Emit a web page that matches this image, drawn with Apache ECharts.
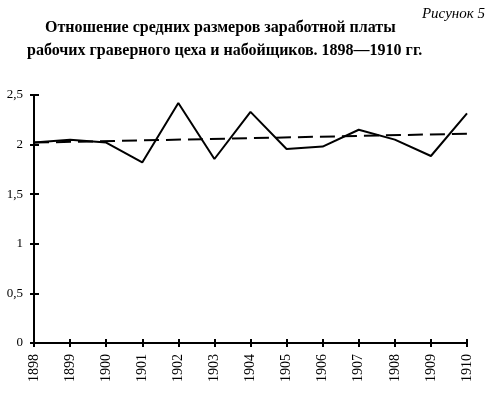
<!DOCTYPE html>
<html>
<head>
<meta charset="utf-8">
<script src="https://cdn.jsdelivr.net/npm/echarts@6/dist/echarts.min.js"></script>
<style>
  html, body { margin: 0; padding: 0; background: #fff; }
  #chart { width: 496px; height: 397px; }
</style>
</head>
<body>
<div id="chart"></div>
<script>
const years = ['1898', '1899', '1900', '1901', '1902', '1903', '1904', '1905', '1906', '1907', '1908', '1909', '1910'];
const ratio = [2.02, 2.05, 2.02, 1.82, 2.42, 1.855, 2.33, 1.955, 1.98, 2.15, 2.05, 1.885, 2.315];
// linear trend: only the two end points, joined across the gaps
const trend = [2.02, null, null, null, null, null, null, null, null, null, null, null, 2.11];

const serif = '"Liberation Serif", "DejaVu Serif", serif';
const fmt = v => String(v).replace('.', ',');

const chart = echarts.init(document.getElementById('chart'));
chart.setOption({
  animation: false,
  title: [
    {
      text: 'Рисунок 5', right: 6, top: 2,
      textStyle: { fontFamily: serif, fontStyle: 'italic', fontWeight: 'normal', fontSize: 15, color: '#000' }
    },
    {
      text: 'Отношение средних размеров заработной платы', left: 40, top: 15,
      textStyle: { fontFamily: serif, fontWeight: 'bold', fontSize: 16, color: '#000' }
    },
    {
      text: 'рабочих граверного цеха и набойщиков. 1898—1910 гг.', left: 22, top: 38,
      textStyle: { fontFamily: serif, fontWeight: 'bold', fontSize: 16, color: '#000' }
    }
  ],
  grid: { left: 34, right: 29, top: 95, bottom: 54 },
  xAxis: [
    {
      type: 'category', data: years, boundaryGap: false,
      axisLine: { lineStyle: { color: '#000', width: 2 } },
      axisTick: { length: 4, lineStyle: { color: '#000', width: 2 } },
      axisLabel: { rotate: 90, fontFamily: serif, fontSize: 14, color: '#000', margin: 11 }
    },
    {
      type: 'category', data: years, boundaryGap: false, position: 'bottom',
      axisLine: { show: false },
      axisTick: { inside: true, length: 4, lineStyle: { color: '#000', width: 2 } },
      axisLabel: { show: false }
    }
  ],
  yAxis: [
    {
      type: 'value', min: 0, max: 2.5, interval: 0.5,
      axisLine: { show: true, lineStyle: { color: '#000', width: 2 } },
      axisTick: { show: true, length: 4, lineStyle: { color: '#000', width: 2 } },
      splitLine: { show: false },
      axisLabel: { formatter: fmt, fontFamily: serif, fontSize: 13, color: '#000', margin: 11 }
    },
    {
      type: 'value', min: 0, max: 2.5, interval: 0.5, position: 'left',
      axisLine: { show: false },
      axisTick: { show: true, inside: true, length: 5, lineStyle: { color: '#000', width: 2 } },
      splitLine: { show: false },
      axisLabel: { show: false }
    }
  ],
  series: [
    {
      type: 'line', data: ratio, symbol: 'none',
      lineStyle: { color: '#000', width: 2 }
    },
    {
      type: 'line', data: trend, symbol: 'none', connectNulls: true,
      lineStyle: { color: '#000', width: 2, type: [15, 7] }
    }
  ]
});
</script>
</body>
</html>
